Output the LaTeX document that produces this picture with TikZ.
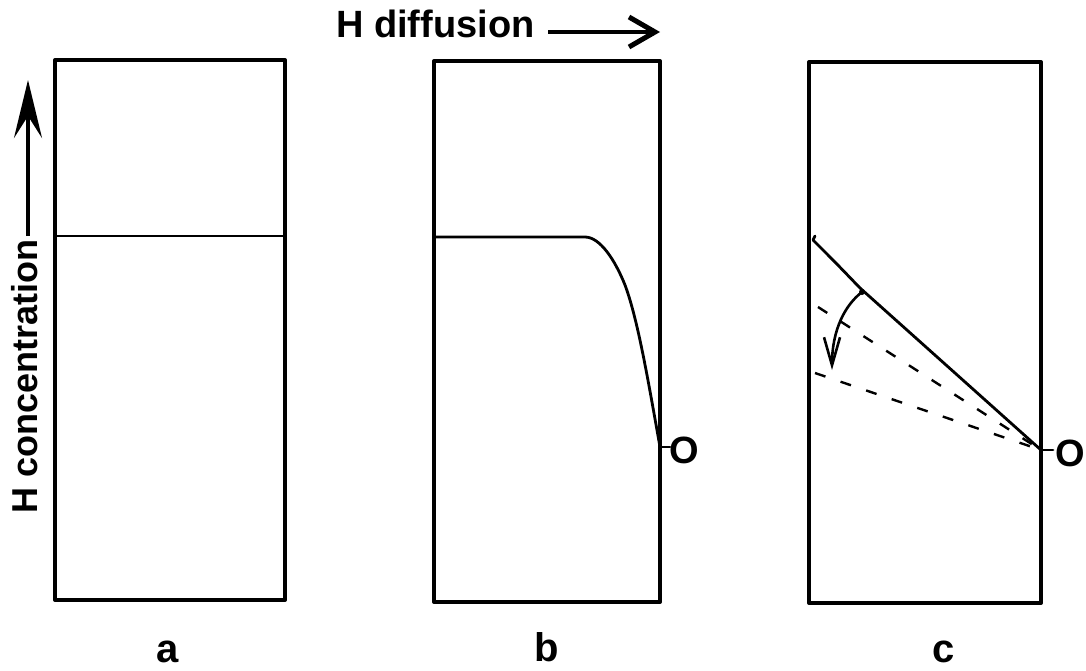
\documentclass[tikz,border=0pt]{standalone}
\usepackage{fontspec}
\setmainfont{Liberation Sans}
\usetikzlibrary{arrows.meta}
\begin{document}
\begin{tikzpicture}[x=1pt,y=-1pt,
  panel/.style={draw=black,line width=4pt,line join=round},
  prof/.style={draw=black,line width=2.8pt,line cap=round},
  dsh/.style={draw=black,line width=2.4pt,dash pattern=on 11pt off 16pt},
  lbl/.style={inner sep=0pt,font=\fontsize{40}{44}\selectfont\bfseries},
  olbl/.style={inner sep=0pt,font=\fontsize{38}{42}\selectfont\bfseries},
  axlbl/.style={inner sep=0pt,font=\fontsize{36}{40}\selectfont\bfseries}]
\useasboundingbox (0,0) rectangle (1086,670);
% panels
\draw[panel] (55,60) rectangle (285,600);
\draw[panel] (434,61) rectangle (660,602);
\draw[panel] (809,62) rectangle (1041,603);
% axis labels
\node[axlbl,rotate=90,anchor=base west] (hc) at (37,514) {H concentration};
\coordinate (hctop) at (28,80);
\draw[line width=4.5pt,-{Stealth[length=58pt,width=28pt,inset=22pt]}] (28,236) -- (hctop);
\node[axlbl,font=\fontsize{38}{42}\selectfont\bfseries,anchor=base west] (hd) at (336,37) {H diffusion};
\coordinate (hdtip) at (660,32);
\draw[line width=3.5pt,-{Straight Barb[length=26pt,width=30pt,line width=5pt]}] (548,32) -- (hdtip);
% panel a
\draw[prof,line width=2.4pt] (55,236) -- (285,236);
\node[lbl,anchor=base] (la) at (168,662) {a};
% panel b
\draw[prof] (434,237) -- (585,237) .. controls (600,237) and (615,260) .. (625,285)
  .. controls (638,320) and (648,380) .. (660,447);
\draw[prof] (660,447) -- (670,447);
\node[olbl,anchor=base west] (ob) at (669,463) {O};
\node[lbl,anchor=base] (lb) at (547,661) {b};
% panel c
\coordinate (c0) at (1041,450);
\draw[prof] (813,240) .. controls (835,262) .. (860,288) -- (c0);
\draw[prof] (813,240) -- (815,236);
\draw[dsh] (818,307) -- (c0);
\draw[dsh] (815,373) -- (c0);
\draw[line width=2.6pt,-{Straight Barb[length=28pt,width=16pt,line width=2.6pt]}]
  (862,292) .. controls (845,305) and (832,330) .. (832,370);
\fill (862,292) circle (3pt);
\draw[prof] (c0) -- (1053,450);
\node[olbl,anchor=base west] (oc) at (1055,466) {O};
\node[lbl,anchor=base] (lc) at (944,662) {c};
\end{tikzpicture}
\end{document}
